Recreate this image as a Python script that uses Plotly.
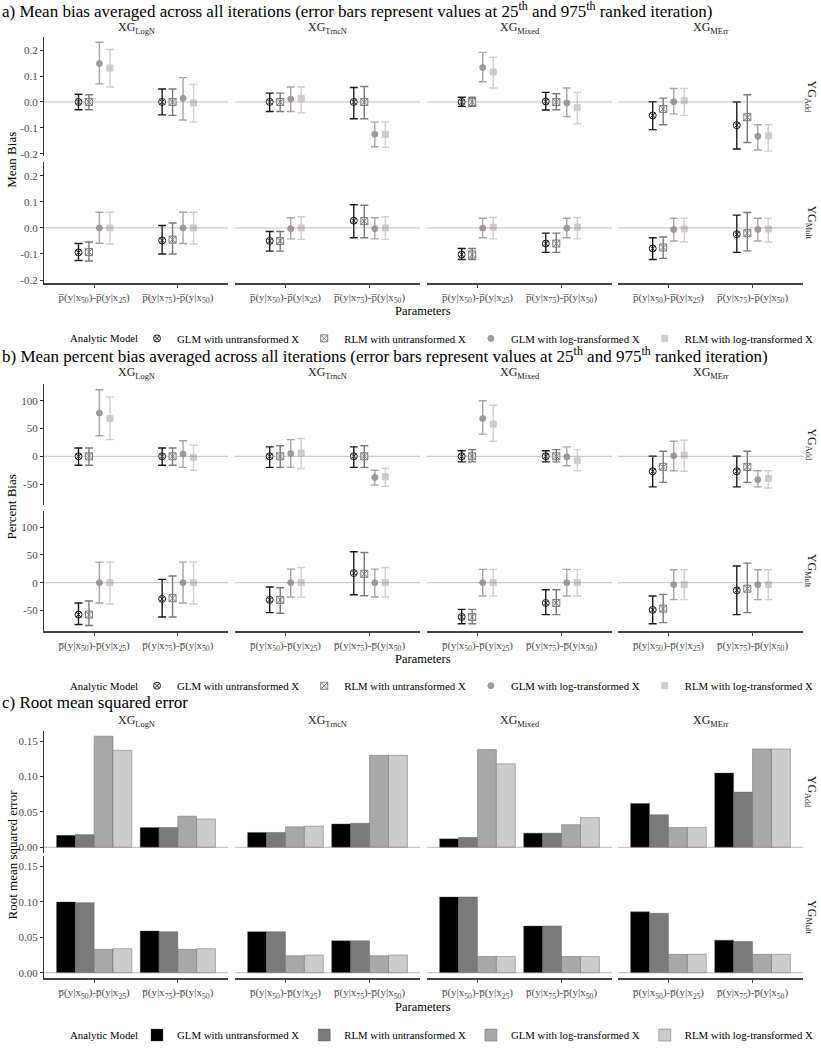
import plotly.graph_objects as go

W, H = 821, 1050
FONT = "Liberation Serif, Times New Roman, serif"

models = ["GLM with untransformed X", "RLM with untransformed X",
          "GLM with log-transformed X", "RLM with log-transformed X"]
generators = ["XG<sub>LogN</sub>", "XG<sub>TrncN</sub>", "XG<sub>Mixed</sub>", "XG<sub>MErr</sub>"]
outcomes = ["YG<sub>Add</sub>", "YG<sub>Mult</sub>"]
param_labels = ["p\u0305(y|x<sub>50</sub>)-p\u0305(y|x<sub>25</sub>)",
                "p\u0305(y|x<sub>75</sub>)-p\u0305(y|x<sub>50</sub>)"]
# order of every value list: outcome (Add, Mult) x generator (LogN, TrncN, Mixed, MErr) x parameter (P1, P2)

# ---------- a) mean bias ----------
bias_glm_u = [0.000, 0.000, 0.000, 0.000, 0.000, 0.002, -0.052, -0.090,
              -0.094, -0.048, -0.050, 0.028, -0.102, -0.060, -0.079, -0.024]
bias_glm_u_lo = [-0.030, -0.050, -0.037, -0.065, -0.017, -0.031, -0.107, -0.182,
                 -0.125, -0.100, -0.089, -0.038, -0.121, -0.094, -0.121, -0.094]
bias_glm_u_hi = [0.030, 0.050, 0.034, 0.056, 0.018, 0.037, 0.001, 0.000,
                 -0.060, 0.009, -0.014, 0.089, -0.079, -0.020, -0.038, 0.049]
bias_rlm_u = [0.000, 0.000, 0.000, 0.000, 0.000, 0.000, -0.027, -0.059,
              -0.093, -0.045, -0.050, 0.026, -0.102, -0.060, -0.075, -0.020]
bias_rlm_u_lo = [-0.030, -0.052, -0.037, -0.065, -0.017, -0.030, -0.088, -0.157,
                 -0.127, -0.100, -0.089, -0.038, -0.121, -0.094, -0.117, -0.088]
bias_rlm_u_hi = [0.028, 0.050, 0.034, 0.060, 0.018, 0.032, 0.015, 0.028,
                 -0.054, 0.019, -0.014, 0.087, -0.079, -0.020, -0.035, 0.059]
bias_glm_l = [0.149, 0.014, 0.011, -0.125, 0.133, -0.004, 0.001, -0.133,
              0.000, 0.000, -0.003, -0.003, -0.001, -0.001, -0.006, -0.006]
bias_glm_l_lo = [0.070, -0.070, -0.037, -0.173, 0.078, -0.056, -0.046, -0.186,
                 -0.059, -0.060, -0.042, -0.042, -0.038, -0.038, -0.050, -0.050]
bias_glm_l_hi = [0.231, 0.094, 0.058, -0.078, 0.192, 0.054, 0.052, -0.088,
                 0.060, 0.060, 0.039, 0.039, 0.037, 0.037, 0.037, 0.037]
bias_rlm_l = [0.131, -0.004, 0.014, -0.125, 0.116, -0.022, 0.005, -0.131,
              0.000, 0.000, 0.000, 0.000, 0.003, 0.003, -0.004, -0.004]
bias_rlm_l_lo = [0.058, -0.078, -0.042, -0.175, 0.054, -0.084, -0.052, -0.190,
                 -0.062, -0.062, -0.044, -0.044, -0.042, -0.042, -0.054, -0.054]
bias_rlm_l_hi = [0.203, 0.068, 0.058, -0.078, 0.173, 0.037, 0.052, -0.088,
                 0.060, 0.060, 0.043, 0.043, 0.040, 0.040, 0.037, 0.037]

# ---------- b) mean percent bias ----------
pbias_glm_u = [0, 0, 0, 0, 0, 0, -27, -27,
               -57.5, -29.3, -31, 17.4, -61.7, -36.5, -49, -13.8]
pbias_glm_u_lo = [-16, -16, -20, -20, -10, -10, -55, -55,
                  -75.4, -61.7, -54, -21.6, -74, -57.5, -74, -57.5]
pbias_glm_u_hi = [15, 15, 17, 17, 10, 10, 0, 0,
                  -36.5, 6, -7.8, 55.7, -48, -12.6, -24, 30]
pbias_rlm_u = [0, 0, 0, 0, 0, 0, -19, -19,
               -57.5, -28, -31, 16, -61.7, -36.5, -46.7, -10.8]
pbias_rlm_u_lo = [-16, -16, -20, -20, -10, -10, -47, -47,
                  -77, -61.7, -55, -23.4, -74, -57.5, -72, -54]
pbias_rlm_u_hi = [15, 15, 19, 19, 12, 12, 9, 9,
                  -33, 12, -9, 54.5, -48, -12.6, -21, 35.3]
pbias_glm_l = [78, 4, 5, -38, 68, -1, 1, -42,
               0, 0, 0, 0, 0, 0, -3.6, -3.6]
pbias_glm_l_lo = [37, -20, -20, -52, 40, -17, -26, -55,
                  -36.5, -36.5, -25.7, -25.7, -24, -24, -30.5, -30.5]
pbias_glm_l_hi = [120, 28, 30, -25, 100, 17, 27, -26,
                  37, 37, 24.5, 24.5, 24, 24, 23.4, 23.4]
pbias_rlm_l = [68, -2, 6, -37, 58, -8, 2, -40,
               0, 0, 0, 0, 0, 0, -3.6, -3.6]
pbias_rlm_l_lo = [30, -25, -22, -54, 27, -26, -27, -57,
                  -38.3, -38.3, -25.7, -25.7, -24, -24, -30.5, -30.5]
pbias_rlm_l_hi = [107, 20, 32, -22, 92, 12, 29, -26,
                  37, 37, 27.5, 27.5, 24, 24, 23.4, 23.4]

# ---------- c) RMSE ----------
rmse_glm_u = [0.017, 0.028, 0.021, 0.033, 0.012, 0.020, 0.062, 0.105,
              0.100, 0.059, 0.058, 0.045, 0.107, 0.066, 0.086, 0.046]
rmse_rlm_u = [0.018, 0.028, 0.021, 0.034, 0.014, 0.020, 0.046, 0.078,
              0.099, 0.058, 0.058, 0.045, 0.107, 0.066, 0.084, 0.044]
rmse_glm_l = [0.157, 0.044, 0.029, 0.130, 0.138, 0.032, 0.028, 0.139,
              0.033, 0.033, 0.024, 0.024, 0.023, 0.023, 0.026, 0.026]
rmse_rlm_l = [0.137, 0.040, 0.030, 0.130, 0.118, 0.042, 0.028, 0.139,
              0.034, 0.034, 0.025, 0.025, 0.023, 0.023, 0.026, 0.026]

bias_sets = [(bias_glm_u, bias_glm_u_lo, bias_glm_u_hi), (bias_rlm_u, bias_rlm_u_lo, bias_rlm_u_hi),
             (bias_glm_l, bias_glm_l_lo, bias_glm_l_hi), (bias_rlm_l, bias_rlm_l_lo, bias_rlm_l_hi)]
pbias_sets = [(pbias_glm_u, pbias_glm_u_lo, pbias_glm_u_hi), (pbias_rlm_u, pbias_rlm_u_lo, pbias_rlm_u_hi),
              (pbias_glm_l, pbias_glm_l_lo, pbias_glm_l_hi), (pbias_rlm_l, pbias_rlm_l_lo, pbias_rlm_l_hi)]
rmse_sets = [rmse_glm_u, rmse_rlm_u, rmse_glm_l, rmse_rlm_l]

# ---------- styling ----------
line_colors = ["#1a1a1a", "#7a7a7a", "#a6a6a6", "#d0d0d0"]
point_colors = ["#1a1a1a", "#7a7a7a", "#a09a9a", "#cccccc"]
bar_colors = ["#000000", "#7a7a7a", "#a8a8a8", "#cccccc"]
symbols = ["circle-x-open", "square-x-open", "circle", "square"]
sizes = [7, 7, 6, 6]
dodge_pt = [-0.1875, -0.0625, 0.0625, 0.1875]
dodge_bar = [-0.3375, -0.1125, 0.1125, 0.3375]
LEG_FS = 10.8

col_px = [(44, 228), (235, 420), (427, 612), (618, 803)]
sections = [
    dict(rows=[(37, 157), (163, 284)], rng=[-0.21, 0.252],
         tv=[-0.2, -0.1, 0, 0.1, 0.2], tt=["-0.2", "-0.1", "0.0", "0.1", "0.2"],
         title="a) Mean bias averaged across all iterations (error bars represent values at 25<sup>th</sup> and 975<sup>th</sup> ranked iteration)",
         title_y=10, head_y=28, ytitle="Mean Bias", param_y=312, leg_y=340),
    dict(rows=[(386, 507), (513, 634)], rng=[-87, 130],
         tv=[-50, 0, 50, 100], tt=["-50", "0", "50", "100"],
         title="b) Mean percent bias averaged across all iterations (error bars represent values at 25<sup>th</sup> and 975<sup>th</sup> ranked iteration)",
         title_y=357, head_y=375, ytitle="Percent Bias", param_y=662, leg_y=689),
    dict(rows=[(734, 857), (860, 983)], rng=[-0.0079, 0.165],
         tv=[0, 0.05, 0.10, 0.15], tt=["0.00", "0.05", "0.10", "0.15"],
         title="c) Root mean squared error",
         title_y=706, head_y=724, ytitle="Root mean squared error", param_y=1012, leg_y=1040),
]

def px_x(v):
    return v / W

def px_y(v):
    return 1 - v / H

fig = go.Figure()
layout = {}
shapes = []
annotations = []
legend_names = ["legend", "legend2", "legend3"]

for s, sec in enumerate(sections):
    for r in range(2):
        for c in range(4):
            n = s * 8 + r * 4 + c + 1
            xa = "x" if n == 1 else f"x{n}"
            ya = "y" if n == 1 else f"y{n}"
            x0, x1 = col_px[c]
            y0, y1 = sec["rows"][r]
            layout["xaxis" if n == 1 else f"xaxis{n}"] = dict(
                domain=[px_x(x0), px_x(x1)], anchor=ya, range=[0.4, 2.6],
                showgrid=False, zeroline=False, showline=(r == 1),
                linecolor="#444444", linewidth=1.8,
                ticks="outside" if r == 1 else "", ticklen=3, tickcolor="#444444",
                tickvals=[1, 2], ticktext=param_labels, showticklabels=(r == 1),
                tickfont=dict(family=FONT, size=11, color="#4d4d4d"), fixedrange=True)
            layout["yaxis" if n == 1 else f"yaxis{n}"] = dict(
                domain=[px_y(y1), px_y(y0)], anchor=xa, range=sec["rng"],
                showgrid=False, zeroline=False, showline=(c == 0),
                linecolor="#333333", linewidth=1.2,
                ticks="outside" if c == 0 else "", ticklen=3, tickcolor="#333333",
                tickvals=sec["tv"], ticktext=sec["tt"], showticklabels=(c == 0),
                tickfont=dict(family=FONT, size=11, color="#4d4d4d"), fixedrange=True)
            shapes.append(dict(type="line", xref=f"{xa} domain", x0=0, x1=1, yref=ya, y0=0, y1=0,
                               line=dict(color="rgba(175,120,120,0.55)", width=1), layer="above"))
            idx = [r * 8 + c * 2, r * 8 + c * 2 + 1]
            for m in range(4):
                first = (r == 0 and c == 0)
                if s < 2:
                    vals, lo, hi = (bias_sets if s == 0 else pbias_sets)[m]
                    yv = [vals[i] for i in idx]
                    fig.add_trace(go.Scatter(
                        x=[1 + dodge_pt[m], 2 + dodge_pt[m]], y=yv, xaxis=xa, yaxis=ya,
                        mode="markers", name=models[m], legend=legend_names[s],
                        showlegend=first, legendgroup=f"{s}-{m}",
                        marker=dict(symbol=symbols[m], size=sizes[m], color=point_colors[m],
                                    line=dict(width=1, color=point_colors[m])),
                        error_y=dict(type="data", symmetric=False,
                                     array=[hi[i] - vals[i] for i in idx],
                                     arrayminus=[vals[i] - lo[i] for i in idx],
                                     color=line_colors[m], thickness=1.4, width=4),
                        hoverinfo="skip"))
                else:
                    vals = rmse_sets[m]
                    fig.add_trace(go.Bar(
                        x=[1 + dodge_bar[m], 2 + dodge_bar[m]], y=[vals[i] for i in idx],
                        width=0.225, xaxis=xa, yaxis=ya, name=models[m],
                        legend=legend_names[s], showlegend=first, legendgroup=f"{s}-{m}",
                        marker=dict(color=bar_colors[m], line=dict(color="rgba(90,90,90,0.6)", width=0.7)),
                        hoverinfo="skip"))
    # texts
    annotations.append(dict(text=sec["title"], x=0, y=px_y(sec["title_y"]), xref="paper", yref="paper",
                            xanchor="left", yanchor="middle", showarrow=False,
                            font=dict(family=FONT, size=17, color="black")))
    for c in range(4):
        annotations.append(dict(text=generators[c], x=px_x((col_px[c][0] + col_px[c][1]) / 2),
                                y=px_y(sec["head_y"]), xref="paper", yref="paper",
                                xanchor="center", yanchor="middle", showarrow=False,
                                font=dict(family=FONT, size=12, color="#1a1a1a")))
    for r in range(2):
        y0, y1 = sec["rows"][r]
        annotations.append(dict(text=outcomes[r], x=px_x(811), y=px_y((y0 + y1) / 2),
                                xref="paper", yref="paper", xanchor="center", yanchor="middle",
                                textangle=90, showarrow=False,
                                font=dict(family=FONT, size=12, color="#1a1a1a")))
    annotations.append(dict(text=sec["ytitle"], x=px_x(12),
                            y=px_y((sec["rows"][0][0] + sec["rows"][1][1]) / 2),
                            xref="paper", yref="paper", xanchor="center", yanchor="middle",
                            textangle=-90, showarrow=False,
                            font=dict(family=FONT, size=13, color="black")))
    annotations.append(dict(text="Parameters", x=px_x(423), y=px_y(sec["param_y"]),
                            xref="paper", yref="paper", xanchor="center", yanchor="middle",
                            showarrow=False, font=dict(family=FONT, size=12.5, color="black")))
    annotations.append(dict(text="Analytic Model", x=px_x(140), y=px_y(sec["leg_y"]),
                            xref="paper", yref="paper", xanchor="right", yanchor="middle",
                            showarrow=False, font=dict(family=FONT, size=LEG_FS, color="black")))
    layout[legend_names[s]] = dict(
        orientation="h", x=px_x(818), y=px_y(sec["leg_y"]), xanchor="right", yanchor="middle",
        xref="paper", yref="paper",
        font=dict(family=FONT, size=LEG_FS, color="black"), bgcolor="rgba(0,0,0,0)",
        itemwidth=30, tracegroupgap=0)

fig.update_layout(**layout)
fig.update_layout(width=W, height=H, margin=dict(l=0, r=0, t=0, b=0),
                  paper_bgcolor="white", plot_bgcolor="white", barmode="overlay",
                  shapes=shapes, annotations=annotations,
                  font=dict(family=FONT, size=12, color="black"))

fig.write_html("out.html", config={"displayModeBar": False},
               post_script="document.body.style.margin='0';document.body.style.overflow='hidden';")
